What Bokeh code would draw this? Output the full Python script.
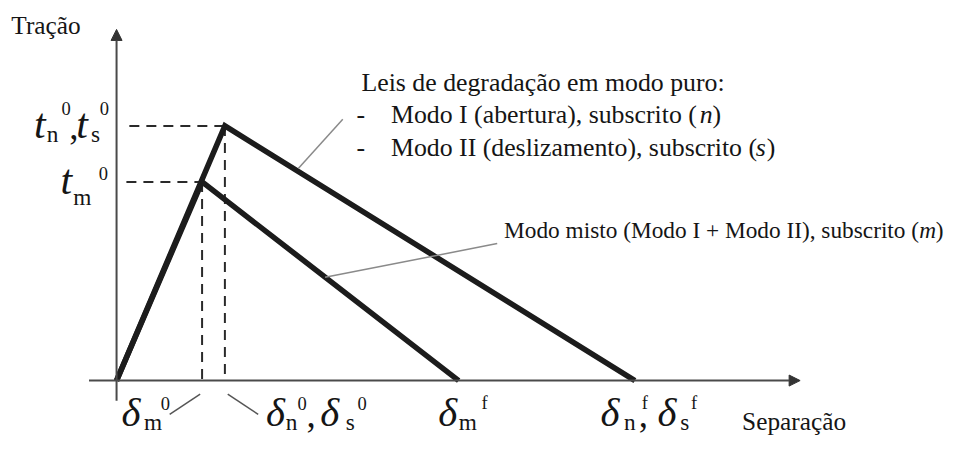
from bokeh.plotting import figure
from bokeh.models import Range1d, Arrow, NormalHead
from bokeh.core.properties import value
from bokeh.embed import file_html
from bokeh.resources import INLINE

# ---- chart values (normalised units: separation / traction) ----
pure_sep = [0.0, 0.209, 1.0]      # 0, delta_n0 (=delta_s0), delta_nf (=delta_sf)
pure_trac = [0.0, 1.0, 0.0]       # 0, t_n0 (=t_s0), 0
mixed_sep = [0.0, 0.165, 0.66]    # 0, delta_m0, delta_mf
mixed_trac = [0.0, 0.78, 0.0]     # 0, t_m0, 0

axis_labels = ["Tração", "Separação"]
pure_title = "Leis de degradação em modo puro:"
pure_items = ["Modo I (abertura), subscrito (", "Modo II (deslizamento), subscrito ("]
pure_subs = ["n", "s"]
mixed_text = "Modo misto (Modo I + Modo II), subscrito ("
mixed_sub = "m"

# ---- layout helpers (reference pixels -> data units) ----
W, H = 957, 436
X0, Y0 = 118, 394
SX = 645 - X0
SY = Y0 - 130
K = 0.972  # font scale to fit the canvas


def px(x):
    return (x - X0) / SX


def py(y):
    return (Y0 - y) / SY


def fs(n):
    return "%.1fpx" % (n * K)


p = figure(width=W, height=H, output_backend="svg", toolbar_location=None,
           x_range=Range1d(px(0), px(973)), y_range=Range1d(py(452), py(0)),
           min_border=0, x_axis_type=None, y_axis_type=None)
p.grid.visible = False
p.outline_line_color = None
p.background_fill_color = "white"

AX = "#4a4a4a"
# axes with arrows
p.add_layout(Arrow(end=NormalHead(size=11, fill_color="#333333", line_color="#333333", line_width=1),
                   x_start=0, y_start=py(415), x_end=0, y_end=py(30),
                   line_width=2, line_color=AX))
p.add_layout(Arrow(end=NormalHead(size=11, fill_color="#333333", line_color="#333333", line_width=1),
                   x_start=px(90), y_start=0, x_end=px(813), y_end=0,
                   line_width=2, line_color=AX))

# dashed guide lines
p.segment(x0=[px(131), px(128), pure_sep[1], mixed_sep[1]],
          y0=[pure_trac[1], mixed_trac[1], pure_trac[1], mixed_trac[1]],
          x1=[pure_sep[1], mixed_sep[1], pure_sep[1], mixed_sep[1]],
          y1=[pure_trac[1], mixed_trac[1], 0, 0],
          line_color="#2a2a2a", line_width=2, line_dash="10 7")

# traction-separation laws
p.line(pure_sep, pure_trac, line_width=5.5, line_color="#1c1c1c", line_join="miter")
p.line(mixed_sep, mixed_trac, line_width=5.5, line_color="#1c1c1c", line_join="miter")

# leader lines and small ticks
p.segment(x0=[px(303), px(330)], y0=[py(174), py(287)],
          x1=[px(348), px(505)], y1=[py(123), py(252)],
          line_color="#8a8a8a", line_width=1.5)
p.segment(x0=[px(172), px(231)], y0=[py(429), py(408)],
          x1=[px(203), px(262)], y1=[py(408), py(429)],
          line_color="#555555", line_width=1.5)

FONT = value("Liberation Serif")
COL = "#151515"


def txt(x, y, s, size, style="normal"):
    # the svg text sits a little below the requested baseline: lift it
    yb = y - (0.22 * size + 2.5)
    p.text(x=[px(x)], y=[py(yb)], text=[s], text_font=FONT, text_font_size=fs(size),
           text_font_style=style, text_color=COL, text_baseline="alphabetic",
           text_align="left")


BIG = 43
DEL = 42
SUB = 24
SUP = 19

# axis titles
txt(11, 34, axis_labels[0], 26)
txt(754, 444, axis_labels[1], 26)

# traction labels
txt(34, 140, "t", BIG, "italic")
txt(47, 146, "n", SUB)
txt(62, 119, "0", SUP)
txt(70, 141, ",", 38)
txt(77, 140, "t", BIG, "italic")
txt(92, 146, "s", SUB)
txt(101, 119, "0", SUP)

txt(61, 198, "t", BIG, "italic")
txt(74, 212, "m", SUB)
txt(100, 186, "0", SUP)

# separation labels
txt(123, 439, "δ", DEL, "italic")
txt(146, 445, "m", SUB)
txt(163, 424, "0", SUP)

txt(270, 439, "δ", DEL, "italic")
txt(290, 445, "n", SUB)
txt(302, 424, "0", SUP)
txt(311, 440, ",", 38)
txt(325, 439, "δ", DEL, "italic")
txt(351, 445, "s", SUB)
txt(363, 424, "0", SUP)

txt(445, 439, "δ", DEL, "italic")
txt(466, 445, "m", SUB)
txt(489, 424, "f", SUP)

txt(610, 439, "δ", DEL, "italic")
txt(634, 445, "n", SUB)
txt(652, 424, "f", SUP)
txt(649, 440, ",", 38)
txt(668, 439, "δ", DEL, "italic")
txt(691, 445, "s", SUB)
txt(702, 424, "f", SUP)

# annotation block (pure modes)
FS = 26.5
txt(367, 93, pure_title, FS)
txt(362, 127, "-", FS)
txt(397, 127, pure_items[0], FS)
txt(711, 127, pure_subs[0], FS, "italic")
txt(724, 127, ")", FS)
txt(362, 161, "-", FS)
txt(397, 161, pure_items[1], FS)
txt(768, 161, pure_subs[1], FS, "italic")
txt(779, 161, ")", FS)

# mixed mode annotation
FM = 24
txt(512, 246, mixed_text, FM)
txt(934, 246, mixed_sub, FM, "italic")
txt(951, 246, ")", FM)

open("out.html", "w").write(file_html(p, INLINE))
